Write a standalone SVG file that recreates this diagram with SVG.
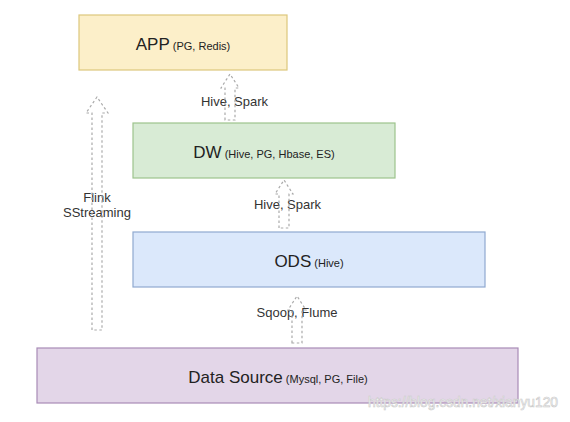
<svg xmlns="http://www.w3.org/2000/svg" width="570" height="422" viewBox="0 0 570 422">
<style>
.box{stroke-width:1.2}
.t{font-family:"Liberation Sans",Arial,sans-serif;fill:#222}
.big{font-size:17px}
.small{font-size:11px}
.lbl{font-family:"Liberation Sans",Arial,sans-serif;font-size:13px;fill:#333}
.arr{fill:none;stroke:#aaaaaa;stroke-width:1.2;stroke-dasharray:2.5 2.5}
.wm{font-family:"Liberation Sans",Arial,sans-serif;font-size:14px;fill:#ffffff;stroke:#c8c8c8;stroke-width:0.6}
</style>
<rect width="570" height="422" fill="#ffffff"/>
<g id="app">
<rect class="box" x="79" y="15" width="208" height="55" fill="#fcefc9" stroke="#dcc77c"/>
<text class="t" x="183" y="50" text-anchor="middle"><tspan class="big">APP</tspan><tspan class="small"> (PG, Redis)</tspan></text>
</g>
<g id="dw">
<rect class="box" x="133" y="123" width="262" height="55" fill="#d8ebd5" stroke="#9dc48d"/>
<text class="t" x="264" y="158" text-anchor="middle"><tspan class="big">DW</tspan><tspan class="small"> (Hive, PG, Hbase, ES)</tspan></text>
</g>
<g id="ods">
<rect class="box" x="133" y="232" width="352" height="55" fill="#dbe8fb" stroke="#8fa9d0"/>
<text class="t" x="309" y="267" text-anchor="middle"><tspan class="big">ODS</tspan><tspan class="small"> (Hive)</tspan></text>
</g>
<g id="datasource">
<rect class="box" x="37" y="348" width="481" height="55" fill="#e3d6e8" stroke="#a88bb6"/>
<text class="t" x="278" y="383" text-anchor="middle"><tspan class="big">Data Source</tspan><tspan class="small"> (Mysql, PG, File)</tspan></text>
</g>
<g id="connectors">
<text class="lbl" x="97" y="202" text-anchor="middle">Flink</text>
<text class="lbl" x="97" y="217" text-anchor="middle">SStreaming</text>
<path class="arr" d="M92,330 L92,113 L86,113 L97,97 L108,113 L102,113 L102,330 Z"/>
<text class="lbl" x="234.5" y="106" text-anchor="middle">Hive, Spark</text>
<path class="arr" d="M225,120 L225,88 L221,88 L230,74 L239,88 L235,88 L235,120 Z"/>
<text class="lbl" x="287.5" y="209" text-anchor="middle">Hive, Spark</text>
<path class="arr" d="M279,228 L279,194 L275,194 L284,180 L293,194 L289,194 L289,228 Z"/>
<text class="lbl" x="297" y="317" text-anchor="middle">Sqoop, Flume</text>
<path class="arr" d="M292,343 L292,310 L288,310 L297,296 L306,310 L302,310 L302,343 Z"/>
</g>
<text class="wm" x="368" y="407" textLength="190" lengthAdjust="spacingAndGlyphs">https://blog.csdn.net/xianyu120</text>
</svg>
